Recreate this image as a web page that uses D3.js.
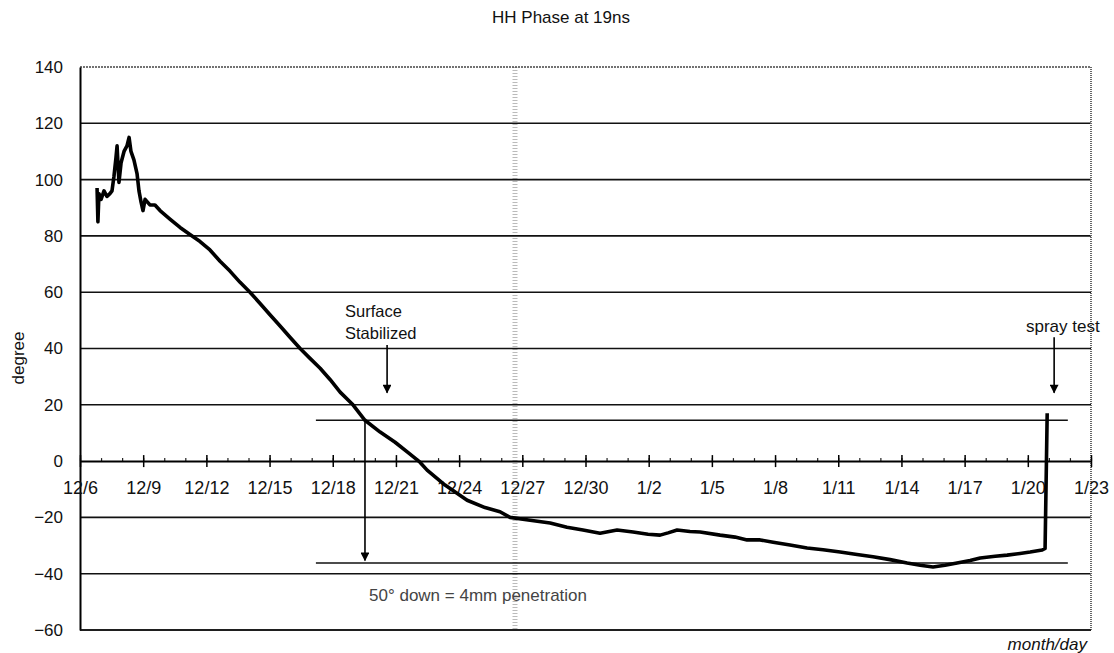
<!DOCTYPE html>
<html>
<head>
<meta charset="utf-8">
<script src="https://cdn.jsdelivr.net/npm/d3@7"></script>
<style>
  html, body { margin: 0; padding: 0; background: #fff; }
  svg { display: block; font-family: "Liberation Sans", Arial, sans-serif; }
</style>
</head>
<body>
<svg id="chart" width="1114" height="653"></svg>
<script>
// ---- data ----
const title = "HH Phase at 19ns";
const yLabel = "degree";
const xLabel = "month/day";
// days after 12/6
const days = [0.81,0.85,0.9,1.0,1.14,1.28,1.42,1.52,1.61,1.71,1.76,1.80,1.85,1.95,2.09,2.23,2.33,2.42,2.56,2.71,2.80,2.90,2.99,3.09,3.32,3.56,3.80,4.27,4.75,5.22,5.70,6.17,6.65,7.12,7.60,8.07,8.55,9.02,9.50,9.97,10.45,10.92,11.40,11.87,12.35,12.96,13.53,14.25,14.96,15.67,16.14,16.48,17.33,18.38,19.23,19.94,20.42,21.37,22.32,23.12,23.88,24.69,25.50,26.26,26.97,27.54,27.92,28.35,28.96,29.44,30.39,31.10,31.67,32.29,32.91,33.71,34.52,35.28,36.09,36.89,37.65,38.46,39.27,39.89,40.50,41.07,41.64,42.26,42.74,43.45,44.02,44.63,45.11,45.68,45.82,45.92];
const phase = [97,85,95,93,96,94,95,96,101,108,112,106,99,106,110,112,115,110,107,102,96,92,89,93,91,91,89,86,83,80.5,78,75,71,67.5,63.5,60,56,52,48,44,40,36.5,33,29,24.5,20,14.5,10.3,6.7,2.5,-0.4,-3.2,-8.5,-13.9,-16.5,-18,-20,-21,-22,-23.5,-24.5,-25.6,-24.5,-25.2,-26,-26.3,-25.5,-24.5,-25,-25.2,-26.3,-27,-28,-28,-28.8,-29.8,-30.9,-31.5,-32.3,-33.2,-34,-35,-36.2,-37,-37.6,-37,-36.2,-35.3,-34.4,-33.8,-33.4,-32.8,-32.3,-31.6,-31,17];
const xTickDays = [0,3,6,9,12,15,18,21,24,27,30,33,36,39,42,45,48];
const xTickLabels = ["12/6","12/9","12/12","12/15","12/18","12/21","12/24","12/27","12/30","1/2","1/5","1/8","1/11","1/14","1/17","1/20","1/23"];
const yTicks = [-60,-40,-20,0,20,40,60,80,100,120,140];
// annotation reference levels
const levelHigh = 14.5, levelLow = -36.2;
const levelSpan = [11.2, 46.9];
const surfaceText = ["Surface", "Stabilized"];
const sprayText = "spray test";
const penetrationText = "50\u00b0 down = 4mm penetration";

// ---- layout ----
const svg = d3.select("#chart");
const L = 80, R = 1091, T = 67, B = 630;
const x = d3.scaleLinear().domain([0, 48]).range([L, R]);
const y = d3.scaleLinear().domain([-60, 140]).range([B, T]);

// scan artefact band
svg.append("line").attr("x1", 515).attr("x2", 515).attr("y1", T).attr("y2", B)
  .attr("stroke", "#bbb").attr("stroke-width", 5).attr("stroke-dasharray", "1,2");

// gridlines
svg.append("g").selectAll("line").data(yTicks.filter(v => v !== 0 && v !== 140)).join("line")
  .attr("x1", L).attr("x2", R).attr("y1", d => y(d)).attr("y2", d => y(d))
  .attr("stroke", "#111").attr("stroke-width", 1.6);
// top border
svg.append("line").attr("x1", L).attr("x2", R).attr("y1", y(140)).attr("y2", y(140))
  .attr("stroke", "#444").attr("stroke-width", 1.3).attr("stroke-dasharray", "2,1");
// right border
svg.append("line").attr("x1", R).attr("x2", R).attr("y1", T).attr("y2", B)
  .attr("stroke", "#666").attr("stroke-width", 2).attr("stroke-dasharray", "1,1");

// y axis labels
const yAxis = d3.axisLeft(y).tickValues(yTicks).tickSize(0).tickPadding(17)
  .tickFormat(d => d < 0 ? "\u2212" + Math.abs(d) : String(d));
const gy = svg.append("g").attr("transform", `translate(${L},0)`).call(yAxis);
gy.select(".domain").attr("stroke", "#000").attr("stroke-width", 2);
gy.selectAll("text").attr("font-size", 17).attr("fill", "#111").attr("font-family", "Liberation Sans, Arial, sans-serif");

// x axis on zero line
const xAxisMinor = d3.axisTop(x).tickValues(d3.range(0, 49)).tickSize(3).tickFormat("");
const gxm = svg.append("g").attr("transform", `translate(0,${y(0)})`).call(xAxisMinor);
gxm.select(".domain").remove();
gxm.selectAll("line").attr("stroke", "#222").attr("stroke-width", 1.2);

const xAxis = d3.axisBottom(x).tickValues(xTickDays).tickSizeInner(6).tickSizeOuter(0)
  .tickPadding(14).tickFormat((d, i) => xTickLabels[i]);
const gx = svg.append("g").attr("transform", `translate(0,${y(0)})`).call(xAxis);
gx.select(".domain").attr("stroke", "#000").attr("stroke-width", 2);
gx.selectAll(".tick line").attr("y1", -6).attr("stroke", "#000").attr("stroke-width", 1.5);
gx.selectAll("text").attr("font-size", 18).attr("fill", "#111").attr("font-family", "Liberation Sans, Arial, sans-serif");

// bottom border
svg.append("line").attr("x1", L).attr("x2", R).attr("y1", y(-60)).attr("y2", y(-60))
  .attr("stroke", "#111").attr("stroke-width", 1.6);

// reference level lines
[levelHigh, levelLow].forEach(v => {
  svg.append("line").attr("x1", x(levelSpan[0])).attr("x2", x(levelSpan[1]))
    .attr("y1", y(v)).attr("y2", y(v)).attr("stroke", "#111").attr("stroke-width", 1.4);
});

// data line
const line = d3.line().x((d, i) => x(days[i])).y(d => y(d));
svg.append("path").datum(phase).attr("d", line)
  .attr("fill", "none").attr("stroke", "#000").attr("stroke-width", 3.6).attr("stroke-linejoin", "round");

// arrows
const defs = svg.append("defs");
defs.append("marker").attr("id", "ah").attr("viewBox", "0 0 10 10").attr("refX", 9).attr("refY", 5)
  .attr("markerWidth", 6).attr("markerHeight", 5.5).attr("orient", "auto-start-reverse")
  .attr("markerUnits", "strokeWidth")
  .append("path").attr("d", "M0,0 L10,5 L0,10 z").attr("fill", "#000");
function arrow(d, v1, v2) {
  svg.append("line").attr("x1", x(d)).attr("x2", x(d)).attr("y1", y(v1)).attr("y2", y(v2))
    .attr("stroke", "#000").attr("stroke-width", 1.6).attr("marker-end", "url(#ah)");
}
arrow(14.58, 41.2, 24.3);
arrow(46.25, 44, 24.3);
arrow(13.53, levelHigh, -35.3);

// texts
const font = "Liberation Sans, Arial, sans-serif";
svg.append("text").attr("x", 561).attr("y", 23).attr("text-anchor", "middle")
  .attr("font-size", 17).attr("font-family", font).attr("fill", "#111").text(title);
svg.append("text").attr("transform", "translate(24,358) rotate(-90)").attr("text-anchor", "middle")
  .attr("font-size", 17).attr("font-family", font).attr("fill", "#111").text(yLabel);
svg.append("text").attr("x", 1087).attr("y", 650).attr("text-anchor", "end").attr("font-style", "italic")
  .attr("font-size", 17).attr("font-family", font).attr("fill", "#111").text(xLabel);
svg.append("text").attr("x", 345).attr("y", 317).attr("font-size", 16.5).attr("font-family", font)
  .attr("fill", "#111").text(surfaceText[0]);
svg.append("text").attr("x", 345).attr("y", 339).attr("font-size", 16.5).attr("font-family", font)
  .attr("fill", "#111").text(surfaceText[1]);
svg.append("text").attr("x", 1026).attr("y", 332).attr("font-size", 17).attr("font-family", font)
  .attr("fill", "#111").text(sprayText);
svg.append("text").attr("x", 369).attr("y", 601).attr("font-size", 17).attr("font-family", font)
  .attr("fill", "#444").text(penetrationText);
</script>
</body>
</html>
